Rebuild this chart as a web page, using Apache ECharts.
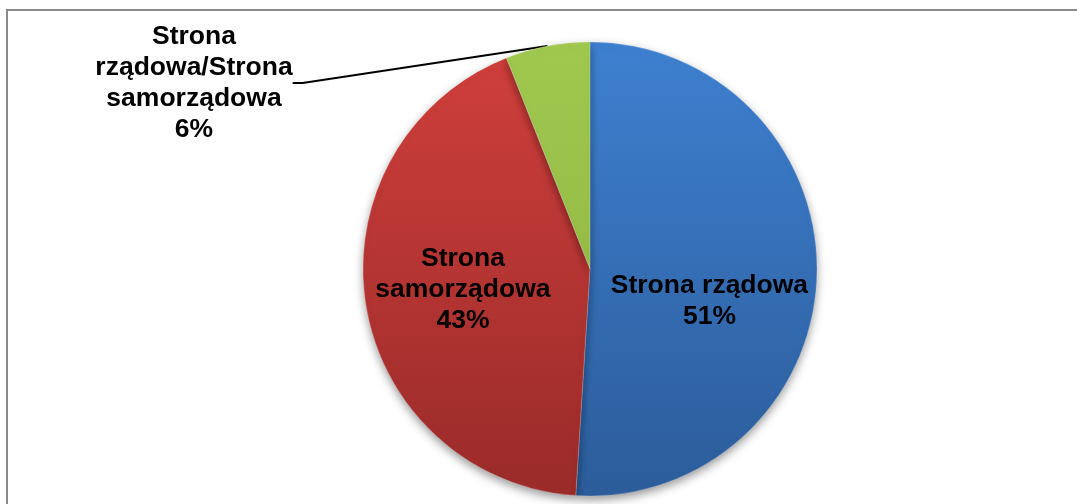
<!DOCTYPE html>
<html>
<head>
<meta charset="utf-8">
<script src="https://cdn.jsdelivr.net/npm/echarts@6/dist/echarts.min.js"></script>
<style>
  html, body { margin: 0; padding: 0; background: #fff; overflow: hidden; }
  #frame { position: absolute; left: 6px; top: 9px; width: 1200px; height: 700px; border: 2px solid #8a8a8a; box-sizing: border-box; }
  #chart { position: absolute; left: 0; top: 0; width: 1077px; height: 504px; }
</style>
</head>
<body>
<div id="frame"></div>
<div id="chart"></div>
<script>
const categories = ['Strona rządowa', 'Strona samorządowa', 'Strona rządowa/Strona samorządowa'];
const labelTexts = ['Strona rządowa', 'Strona\nsamorządowa', 'Strona\nrządowa/Strona\nsamorządowa'];
const values = [51, 43, 6];

const chart = echarts.init(document.getElementById('chart'));
const cx = 590, cy = 269, R = 227;
function grad(top, bottom) {
  return new echarts.graphic.LinearGradient(0, cy - R, 0, cy + R, [
    { offset: 0, color: top }, { offset: 1, color: bottom }
  ], true);
}
const colors = [grad('#3e80d0', '#2c5c9a'), grad('#d03f3c', '#992b29'), grad('#a0c84e', '#8cb040')];

const labelAdjust = [
  { dx: 3, dy: 29 },
  { dx: -12, dy: 2 },
  null
];

chart.setOption({
  animation: false,
  series: [{
    type: 'pie',
    center: [cx, cy],
    radius: [0, R],
    startAngle: 90,
    clockwise: true,
    data: categories.map((c, i) => ({
      name: c,
      value: values[i],
      itemStyle: { color: colors[i] },
      label: i === 2 ? { position: 'outside' } : { position: 'inside' },
      labelLine: i === 2 ? { show: true, length: 10, length2: 10, lineStyle: { color: '#000', width: 2 } } : { show: false }
    })),
    itemStyle: {
      borderColor: 'rgba(255,255,255,0.35)',
      borderWidth: 0.6,
      shadowBlur: 10,
      shadowOffsetY: 4,
      shadowColor: 'rgba(0,0,0,0.4)'
    },
    label: {
      show: true,
      formatter: p => labelTexts[p.dataIndex] + '\n' + p.value + '%',
      fontFamily: '"Liberation Sans", Arial, sans-serif',
      fontWeight: 'bold',
      fontSize: 26.5,
      lineHeight: 31,
      color: '#000',
      align: 'center'
    },
    labelLayout: function (p) {
      if (p.dataIndex === 2) {
        return { x: 194, y: 83, align: 'center', verticalAlign: 'middle', moveOverlap: false };
      }
      return labelAdjust[p.dataIndex];
    }
  }]
});
</script>
</body>
</html>
